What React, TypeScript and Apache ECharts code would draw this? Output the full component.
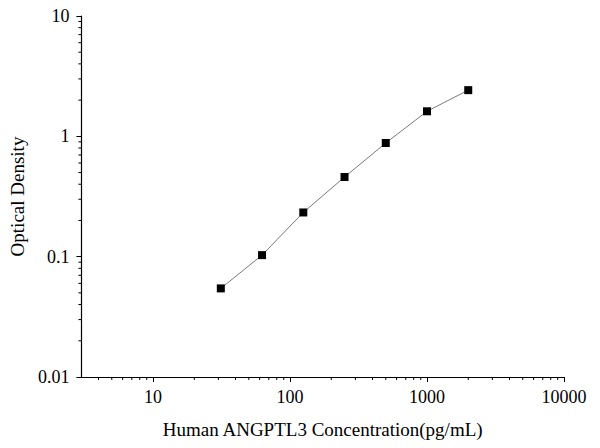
import React, { useEffect, useRef } from 'react';
import * as echarts from 'echarts';

// 标准曲线数据（浓度 pg/mL，吸光度 OD）
const concentrations = [31.25, 62.5, 125, 250, 500, 1000, 2000];
const odValues = [0.0545, 0.103, 0.233, 0.459, 0.88, 1.615, 2.42];

// 坐标轴范围
const xMin = 3;
const xMax = 10000;
const yMin = 0.01;
const yMax = 10;

// 对数轴次刻度（2..9 每个十进位）
const xMinorTicks = [4, 5, 6, 7, 8, 9, 20, 30, 40, 50, 60, 70, 80, 90, 200, 300, 400, 500, 600, 700, 800, 900, 2000, 3000, 4000, 5000, 6000, 7000, 8000, 9000];
const yMinorTicks = [0.02, 0.03, 0.04, 0.05, 0.06, 0.07, 0.08, 0.09, 0.2, 0.3, 0.4, 0.5, 0.6, 0.7, 0.8, 0.9, 2, 3, 4, 5, 6, 7, 8, 9];

const FONT = '"Liberation Serif", "Times New Roman", serif';

const App: React.FC = () => {
  const chartRef = useRef<HTMLDivElement>(null);

  useEffect(() => {
    document.body.style.margin = '0';
    if (!chartRef.current) return;
    const chart = echarts.init(chartRef.current, undefined, { renderer: 'svg' });

    const axisCommon = {
      axisLine: { show: true, onZero: false, lineStyle: { color: '#000', width: 1.2 } },
      axisTick: { show: true, inside: false, length: 5, lineStyle: { color: '#000', width: 1 } },
      minorTick: { show: false },
      splitLine: { show: false },
      nameLocation: 'middle' as const,
      nameTextStyle: { fontFamily: FONT, fontSize: 19, color: '#000' },
    };

    chart.setOption({
      animation: false,
      backgroundColor: '#fff',
      grid: { left: 76, right: 36, top: 16, bottom: 71, containLabel: false },
      xAxis: {
        ...axisCommon,
        type: 'log',
        logBase: 10,
        min: xMin,
        max: xMax,
        name: 'Human ANGPTL3 Concentration(pg/mL)',
        nameGap: 43,
        axisLabel: {
          fontFamily: FONT,
          fontSize: 18,
          color: '#000',
          margin: 11,
          showMinLabel: false,
          formatter: (v: number) => String(Math.round(v)),
        },
      },
      yAxis: {
        ...axisCommon,
        type: 'log',
        logBase: 10,
        min: yMin,
        max: yMax,
        name: 'Optical Density',
        nameGap: 49,
        axisLabel: {
          fontFamily: FONT,
          fontSize: 18,
          color: '#000',
          margin: 12,
          formatter: (v: number) => String(parseFloat(v.toPrecision(2))),
        },
      },
      series: [
        {
          type: 'line',
          data: concentrations.map((c, i) => [c, odValues[i]]),
          symbol: 'rect',
          symbolSize: 8,
          lineStyle: { color: '#7a7a7a', width: 1 },
          itemStyle: { color: '#000' },
          z: 5,
        },
        {
          type: 'custom',
          clip: false,
          silent: true,
          data: xMinorTicks.map((v) => [v, yMin]),
          renderItem: (_params: any, api: any) => {
            const p = api.coord([api.value(0), api.value(1)]);
            return {
              type: 'line',
              shape: { x1: p[0], y1: p[1], x2: p[0], y2: p[1] + 3 },
              style: { stroke: '#000', lineWidth: 1 },
            };
          },
        },
        {
          type: 'custom',
          clip: false,
          silent: true,
          data: yMinorTicks.map((v) => [xMin, v]),
          renderItem: (_params: any, api: any) => {
            const p = api.coord([api.value(0), api.value(1)]);
            return {
              type: 'line',
              shape: { x1: p[0], y1: p[1], x2: p[0] - 3, y2: p[1] },
              style: { stroke: '#000', lineWidth: 1 },
            };
          },
        },
      ],
    });

    return () => {
      chart.dispose();
    };
  }, []);

  return <div ref={chartRef} style={{ width: 600, height: 448 }} />;
};

export default App;
